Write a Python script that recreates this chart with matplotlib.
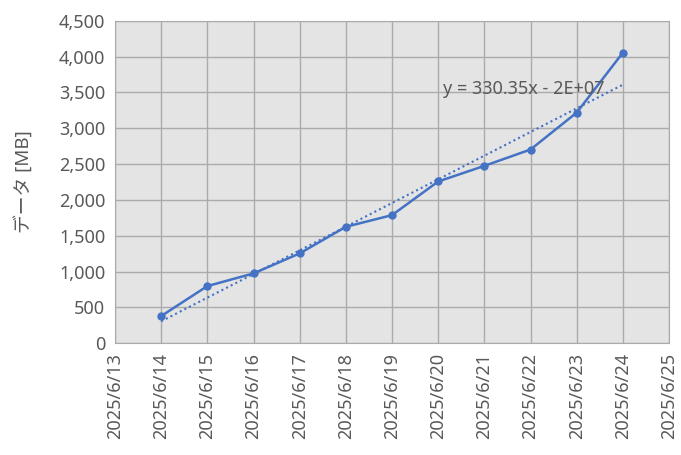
import numpy as np
import pandas as pd
import matplotlib
matplotlib.use("Agg")
import matplotlib.pyplot as plt
import matplotlib.dates as mdates
from matplotlib.ticker import FuncFormatter, MultipleLocator

plt.rcParams['font.family'] = ['Noto Sans', 'Noto Sans CJK JP', 'DejaVu Sans']

dates = pd.date_range("2025-06-14", "2025-06-24", freq="D")
data_mb = [380, 798, 975, 1254, 1625, 1788, 2257, 2475, 2703, 3218, 4054]
ylabel = "データ [MB]"
trend_label = "y = 330.35x - 2E+07"

blue = "#4472C4"
txt = "#595959"
grid = "#ababab"

fig = plt.figure(figsize=(6.81, 4.55), dpi=100)
ax = fig.add_axes([0.1689, 0.2455, 0.8135, 0.709])
ax.set_facecolor("#e4e4e4")

x = mdates.date2num(dates)
ax.plot(dates, data_mb, color=blue, lw=1.8, marker="o", ms=5, zorder=3)

# linear trendline
k, b = np.polyfit(x, data_mb, 1)
ax.plot(dates, k * x + b, color=blue, lw=1.5, ls=(0, (1, 1.5)), zorder=2)
ax.text(mdates.date2num(pd.Timestamp("2025-06-20")) + 0.1, 3420, trend_label,
        color=txt, fontsize=13, va="bottom", ha="left", zorder=4)

ax.set_xlim(pd.Timestamp("2025-06-13"), pd.Timestamp("2025-06-25"))
ax.set_ylim(0, 4500)
ax.xaxis.set_major_locator(mdates.DayLocator())
ax.xaxis.set_major_formatter(FuncFormatter(
    lambda v, p: "{0.year}/{0.month}/{0.day}".format(mdates.num2date(v))))
ax.yaxis.set_major_locator(MultipleLocator(500))
ax.yaxis.set_major_formatter(FuncFormatter(lambda v, p: f"{int(v):,}"))

ax.grid(True, color=grid, lw=1)
ax.set_axisbelow(True)
for s in ax.spines.values():
    s.set_color(grid)
ax.tick_params(length=0, labelcolor=txt, labelsize=13, pad=7)
ax.tick_params(axis="x", rotation=90)
ax.set_ylabel(ylabel, color=txt, fontsize=13.5, labelpad=18)

fig.savefig("out.png", dpi=100)
